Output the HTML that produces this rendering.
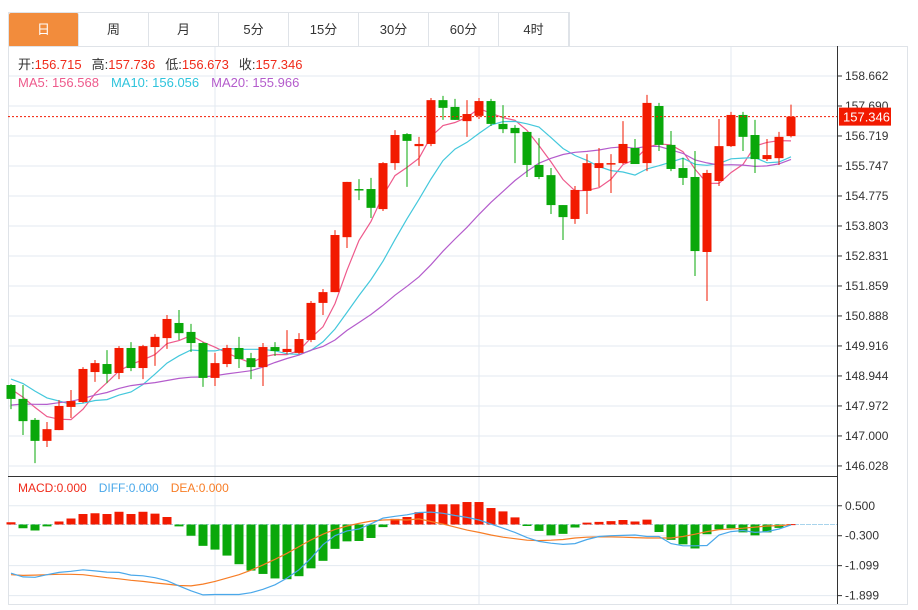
<!DOCTYPE html>
<html><head><meta charset="utf-8">
<style>
body{margin:0;background:#fff;width:918px;height:610px;overflow:hidden;font-family:"Liberation Sans","Noto Sans CJK SC",sans-serif;}
#tabs{position:absolute;left:8px;top:12px;height:34px;display:flex;border:1px solid #dfe3e8;border-bottom:none;}
.tab{width:69px;height:34px;line-height:34px;text-align:center;font-size:13px;color:#333;border-right:1px solid #dfe3e8;box-sizing:border-box;width:70px}
.tab.on{background:#f28c3c;color:#fff;border-radius:2px}
svg{position:absolute;left:0;top:0}
</style></head><body>
<div id="tabs">
<div class="tab on">日</div>
<div class="tab">周</div>
<div class="tab">月</div>
<div class="tab">5分</div>
<div class="tab">15分</div>
<div class="tab">30分</div>
<div class="tab">60分</div>
<div class="tab">4时</div>
</div>
<svg id="chart" width="918" height="610"></svg>
<script>
const opens=[148.65,148.20,147.52,146.84,147.19,147.94,148.10,149.07,149.33,149.04,149.85,149.20,149.88,150.17,150.66,150.37,150.01,148.88,149.33,149.85,149.52,149.23,149.88,149.72,149.69,150.11,151.31,151.66,153.44,155.00,155.00,154.35,155.84,156.78,156.39,156.46,157.88,157.66,157.20,157.37,157.85,157.11,156.98,156.85,155.78,155.45,154.48,154.03,154.94,155.68,155.81,155.84,156.33,155.84,157.69,156.43,155.68,155.39,152.96,155.26,156.39,157.40,156.75,155.97,156.00,156.715];
const closes=[148.20,147.48,146.84,147.22,147.97,148.13,149.17,149.36,149.01,149.85,149.20,149.91,150.21,150.79,150.33,150.01,148.88,149.36,149.85,149.49,149.23,149.88,149.75,149.82,150.14,151.31,151.66,153.51,155.23,154.97,154.39,155.84,156.75,156.56,156.46,157.88,157.63,157.24,157.43,157.85,157.11,156.94,156.81,155.78,155.39,154.48,154.09,154.97,155.84,155.84,155.84,156.46,155.81,157.79,156.43,155.65,155.36,152.99,155.52,156.39,157.40,156.69,155.97,156.10,156.69,157.346];
const highs=[148.68,148.65,147.58,147.45,148.16,148.49,149.23,149.46,149.78,149.91,150.04,149.95,150.30,150.92,151.08,150.63,150.04,149.69,149.95,150.21,149.69,150.01,150.04,150.43,150.33,151.37,151.76,153.67,155.23,155.32,155.36,155.87,156.91,156.81,156.69,157.95,158.02,157.92,157.88,157.95,157.92,157.72,157.07,156.85,156.65,155.68,154.48,155.10,156.13,156.33,156.13,157.20,156.62,158.05,157.79,156.88,156.01,156.23,155.62,157.27,157.50,157.50,157.24,156.62,156.85,157.736];
const lows=[147.87,147.03,146.12,146.64,147.19,147.58,148.07,148.75,148.71,148.84,149.10,148.84,149.27,149.82,150.11,149.72,148.59,148.62,149.23,149.20,148.84,148.62,149.59,149.65,149.65,150.04,150.92,151.66,153.09,154.64,154.06,154.29,155.62,155.07,155.75,156.39,157.24,157.24,156.69,157.27,157.04,156.81,155.84,155.39,155.32,154.19,153.35,153.87,154.19,155.07,154.87,155.81,155.81,155.58,156.23,155.58,155.13,152.18,151.37,155.10,156.36,156.23,155.52,155.91,155.78,156.673];
const priorCloses=[146.8,147.0,147.3,146.9,147.2,147.4,147.1,147.3,147.2,147.4,148.9,149.3,149.4,149.0,149.2,148.8,148.5,148.7,148.4];
const priceTicks=[158.662,157.690,156.719,155.747,154.775,153.803,152.831,151.859,150.888,149.916,148.944,147.972,147.000,146.028];
const macdHist=[0.06,-0.10,-0.16,-0.05,0.08,0.16,0.28,0.30,0.28,0.34,0.28,0.34,0.29,0.20,-0.05,-0.30,-0.57,-0.67,-0.83,-1.06,-1.23,-1.32,-1.44,-1.46,-1.38,-1.17,-0.97,-0.65,-0.45,-0.44,-0.36,-0.07,0.15,0.20,0.33,0.54,0.54,0.54,0.60,0.60,0.44,0.35,0.19,-0.04,-0.17,-0.29,-0.25,-0.08,0.05,0.07,0.09,0.12,0.08,0.13,-0.20,-0.41,-0.53,-0.64,-0.26,-0.13,-0.10,-0.21,-0.29,-0.21,-0.09,0.01];
const diffVals=[-1.30,-1.40,-1.41,-1.34,-1.28,-1.25,-1.21,-1.24,-1.27,-1.28,-1.35,-1.37,-1.42,-1.50,-1.64,-1.77,-1.88,-1.87,-1.87,-1.87,-1.82,-1.73,-1.61,-1.43,-1.21,-0.90,-0.54,-0.30,-0.17,-0.12,0.02,0.17,0.22,0.26,0.32,0.33,0.30,0.24,0.19,0.12,0.01,-0.10,-0.21,-0.35,-0.45,-0.50,-0.53,-0.51,-0.40,-0.32,-0.30,-0.29,-0.28,-0.32,-0.32,-0.51,-0.57,-0.57,-0.56,-0.28,-0.19,-0.16,-0.21,-0.19,-0.12,-0.01];
const deaVals=[-1.34,-1.36,-1.35,-1.34,-1.33,-1.33,-1.34,-1.38,-1.42,-1.45,-1.49,-1.52,-1.56,-1.59,-1.63,-1.64,-1.59,-1.52,-1.43,-1.34,-1.22,-1.08,-0.93,-0.77,-0.59,-0.41,-0.26,-0.13,-0.04,0.03,0.09,0.12,0.13,0.12,0.15,0.08,0.01,-0.07,-0.15,-0.21,-0.28,-0.34,-0.38,-0.42,-0.43,-0.42,-0.40,-0.36,-0.34,-0.33,-0.33,-0.34,-0.35,-0.36,-0.36,-0.36,-0.32,-0.26,-0.19,-0.14,-0.12,-0.10,-0.07,-0.04,-0.03,-0.01];
const macdTicks=[0.500,-0.300,-1.099,-1.899];

const svg=document.getElementById('chart');
const NS='http://www.w3.org/2000/svg';
function mk(tag,attrs,parent){const e=document.createElementNS(NS,tag);for(const k in attrs)e.setAttribute(k,attrs[k]);(parent||svg).appendChild(e);return e;}
const xOf=i=>11+i*12;
const yP=p=>76+(158.662-p)/0.0324;
const yM=v=>524.5-v/0.0267;
const RED='#f21a00',GREEN='#0aa80a';

// frame & grid
let g=mk('g',{});


priceTicks.forEach(t=>{const y=yP(t);mk('line',{x1:8,x2:837,y1:y,y2:y,stroke:'#e3eaf0','stroke-width':1},g);});
macdTicks.forEach(t=>{const y=yM(t);mk('line',{x1:8,x2:837,y1:y,y2:y,stroke:'#e3eaf0','stroke-width':1},g);});
[215,479,731].forEach(x=>{mk('line',{x1:x,x2:x,y1:46,y2:604,stroke:'#e3eaf0'},g);});
mk('rect',{x:8.5,y:46.5,width:899,height:558,fill:'none',stroke:'#dfe3e8'},g);
mk('line',{x1:8,x2:837,y1:476.5,y2:476.5,stroke:'#333'},g);
mk('line',{x1:837.5,x2:837.5,y1:46,y2:604,stroke:'#333'},g);
mk('line',{x1:8,x2:837,y1:524.5,y2:524.5,stroke:'#a8d4ec','stroke-dasharray':'3,3'},g);
mk('line',{x1:790,x2:837,y1:524.5,y2:524.5,stroke:'#a8d4ec','stroke-dasharray':'3,3'},g);

// axis labels
const ax=mk('g',{'font-size':'12','fill':'#333','font-family':'Liberation Sans, sans-serif'});


priceTicks.forEach(t=>{const y=yP(t);mk('line',{x1:837,x2:842,y1:y,y2:y,stroke:'#333'},ax);const tx=mk('text',{x:845,y:y+4},ax);tx.textContent=t.toFixed(3);});
macdTicks.forEach(t=>{const y=yM(t);mk('line',{x1:837,x2:842,y1:y,y2:y,stroke:'#333'},ax);const tx=mk('text',{x:845,y:y+4},ax);tx.textContent=t.toFixed(3);});

// moving averages
const all=priorCloses.concat(closes);
function ma(n){return closes.map((c,i)=>{const j=i+priorCloses.length;let s=0;for(let k=j-n+1;k<=j;k++)s+=all[k];return s/n;});}
[[5,'#ee5a8c','ma5-line'],[10,'#44c8dc','ma10-line'],[20,'#b45ccc','ma20-line']].forEach(([n,col,nm])=>{
  const v=ma(n);const d=v.map((p,i)=>(i?'L':'M')+xOf(i)+','+yP(p).toFixed(1)).join('');
  const l=mk('path',{d:d,fill:'none',stroke:col,'stroke-width':1.2});
  
  
});

// candles
const cg=mk('g',{});


closes.forEach((c,i)=>{
  const o=opens[i],up=c>=o,col=up?RED:GREEN,x=xOf(i);
  const w=mk('line',{x1:x,x2:x,y1:yP(highs[i]),y2:yP(lows[i]),stroke:col,'stroke-width':1},cg);
  const t=Math.min(yP(o),yP(c)),h=Math.max(1.5,Math.abs(yP(o)-yP(c)));
  const r=mk('rect',{x:x-4.5,y:t,width:9,height:h,fill:col},cg);
  
  
});

// last price line & label
const lp=closes[closes.length-1];
mk('line',{x1:8,x2:837,y1:yP(lp),y2:yP(lp),stroke:RED,'stroke-dasharray':'2,2'});
const lb=mk('rect',{x:839,y:yP(lp)-9,width:52,height:18,fill:RED});


const lt=mk('text',{x:843,y:yP(lp)+5,fill:'#fff','font-size':'13'});lt.textContent=lp.toFixed(3);

// MACD histogram
const mg=mk('g',{});


macdHist.forEach((v,i)=>{
  const y0=yM(0),y1=yM(v);
  const b=mk('rect',{x:xOf(i)-4.5,y:Math.min(y0,y1),width:9,height:Math.max(1,Math.abs(y1-y0)),fill:v>=0?RED:GREEN},mg);
  
  
});
[[deaVals,'#f77d26','dea-line'],[diffVals,'#4aa8ea','diff-line']].forEach(([arr,col,nm])=>{
  const d=arr.map((v,i)=>(i?'L':'M')+xOf(i)+','+yM(v).toFixed(1)).join('');
  const l=mk('path',{d:d,fill:'none',stroke:col,'stroke-width':1.2});
  
  
});
</script>
<svg width="918" height="610" style="pointer-events:none">
<text x="18" y="69" font-size="13" font-family="Liberation Sans, Noto Sans CJK SC, sans-serif"><tspan fill="#333">开:</tspan><tspan fill="#f02a1a">156.715</tspan><tspan fill="#333" dx="10">高:</tspan><tspan fill="#f02a1a">157.736</tspan><tspan fill="#333" dx="10">低:</tspan><tspan fill="#f02a1a">156.673</tspan><tspan fill="#333" dx="10">收:</tspan><tspan fill="#f02a1a">157.346</tspan></text>
<text x="18" y="87" font-size="13" font-family="Liberation Sans, sans-serif"><tspan fill="#ee5a8c">MA5: 156.568</tspan><tspan fill="#2fc4dc" dx="12">MA10: 156.056</tspan><tspan fill="#b45ccc" dx="12">MA20: 155.966</tspan></text>
<text x="18" y="492" font-size="12" font-family="Liberation Sans, sans-serif"><tspan fill="#f02a1a">MACD:0.000</tspan><tspan fill="#4aa8ea" dx="12">DIFF:0.000</tspan><tspan fill="#f77d26" dx="12">DEA:0.000</tspan></text>
</svg>
</body></html>
